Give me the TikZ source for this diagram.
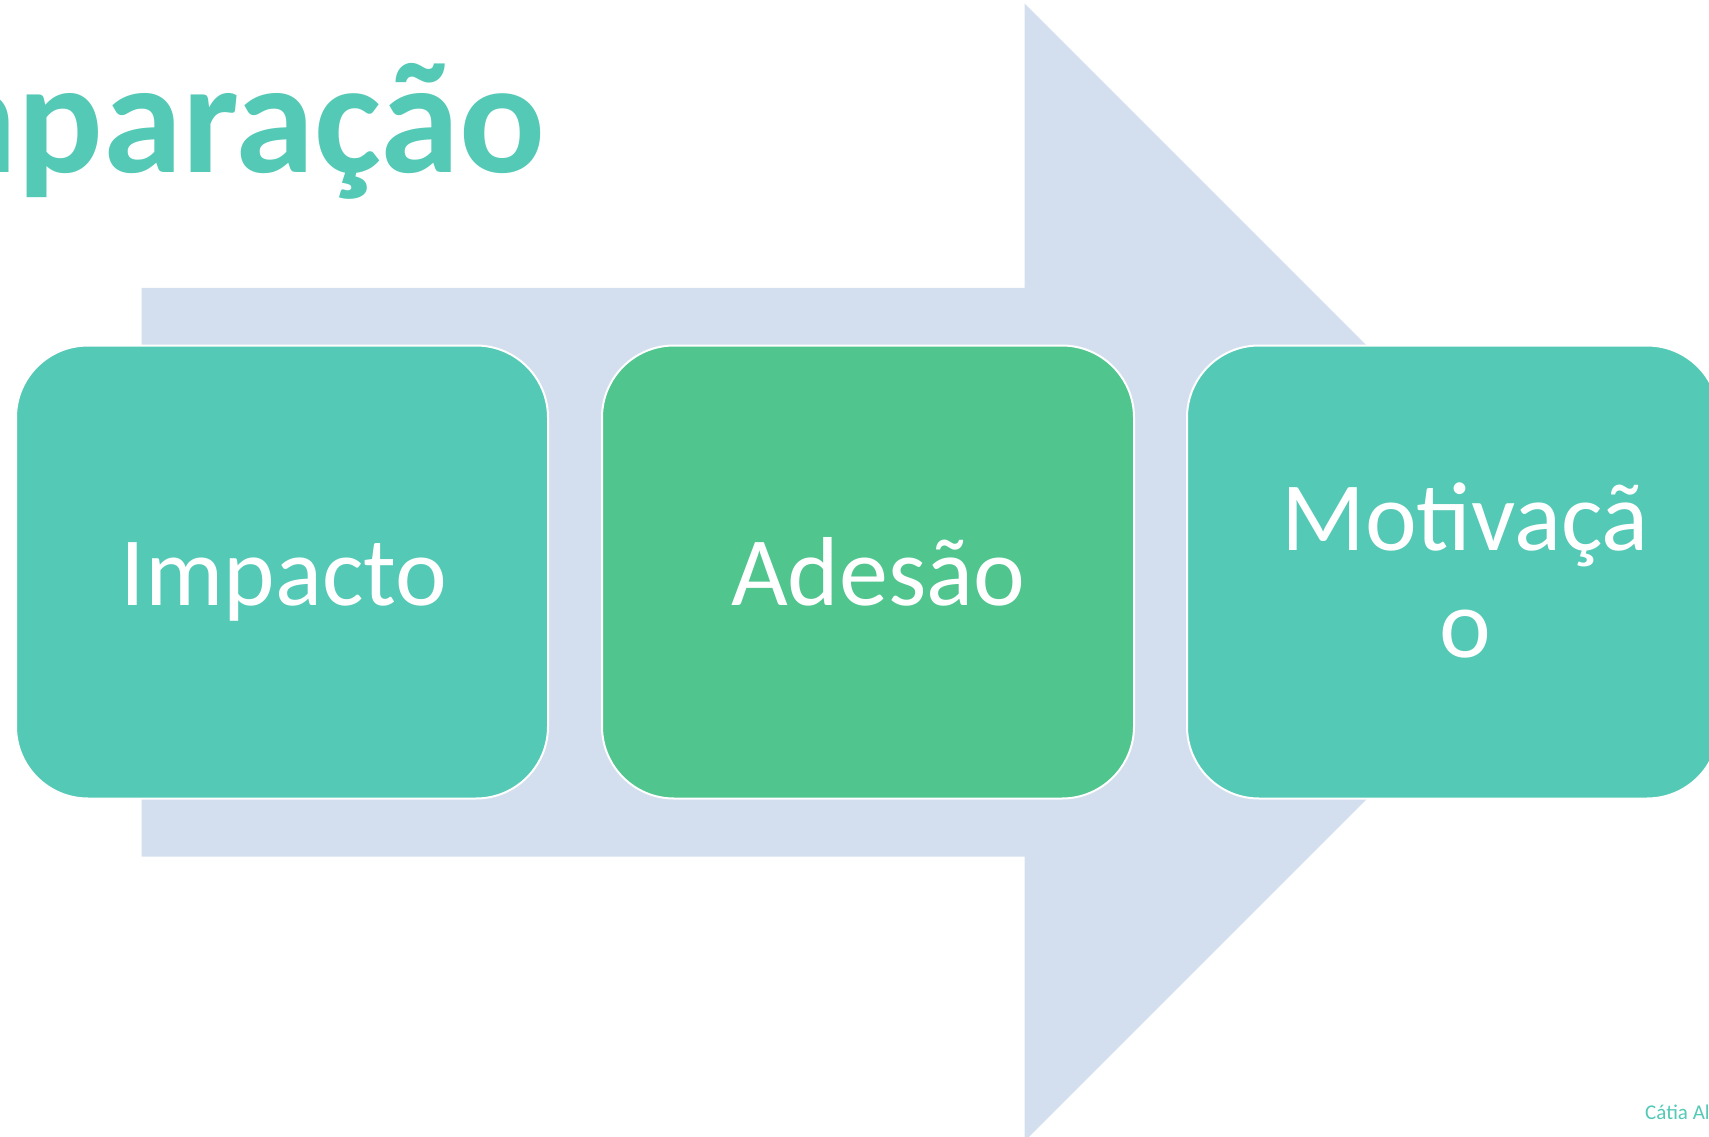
\documentclass[tikz,border=0pt]{standalone}
\usepackage{fontspec}
\setmainfont{Carlito}
\usetikzlibrary{positioning}
\definecolor{boxteal}{RGB}{84,201,182}
\definecolor{boxgreen}{RGB}{80,197,141}
\definecolor{arrowblue}{RGB}{211,223,239}

\begin{document}
\begin{tikzpicture}[x=1pt,y=-1pt,
    stage/.style={draw=white,line width=2pt,rounded corners=72pt,minimum width=532pt,minimum height=453pt,inner sep=0pt},
    stagetext/.style={text=white,font=\fontsize{98}{107}\selectfont,align=center,inner sep=0pt}]
    \useasboundingbox (0,0) rectangle (1709,1137);
    \clip (0,0) rectangle (1709,1137);

    % big arrow behind the boxes
    \fill[arrowblue] (141.7,287.8) -- (1024.5,287.8) -- (1024.5,3.3) -- (1593.5,572.3)
        -- (1024.5,1141.3) -- (1024.5,856.7) -- (141.7,856.7) -- cycle;

    \node[inner sep=0pt,anchor=base east,text=boxteal,font=\fontsize{160}{160}\selectfont\bfseries] (title) at (546,172) {Comparação};

    \node[stage,fill=boxteal] (impacto) at (282,572) {};
    \node[stage,fill=boxgreen,right=52pt of impacto] (adesao) {};
    \node[stage,fill=boxteal,right=51pt of adesao] (motivacao) {};

    \node[stagetext,anchor=base] (impactotext) at ([xshift=2pt,yshift=-33pt]impacto.center) {Impacto};
    \node[stagetext,anchor=base] (adesaotext) at ([xshift=10pt,yshift=-33pt]adesao.center) {Adesão};
    \node[stagetext,anchor=base] (motivacaotext) at ([xshift=12pt,yshift=-85pt]motivacao.center) {Motivaçã\\o};

    \node[anchor=base west,inner sep=0pt,text=boxteal,font=\fontsize{21}{21}\selectfont] (author) at (1645,1119) {Cátia Al};
\end{tikzpicture}
\end{document}
